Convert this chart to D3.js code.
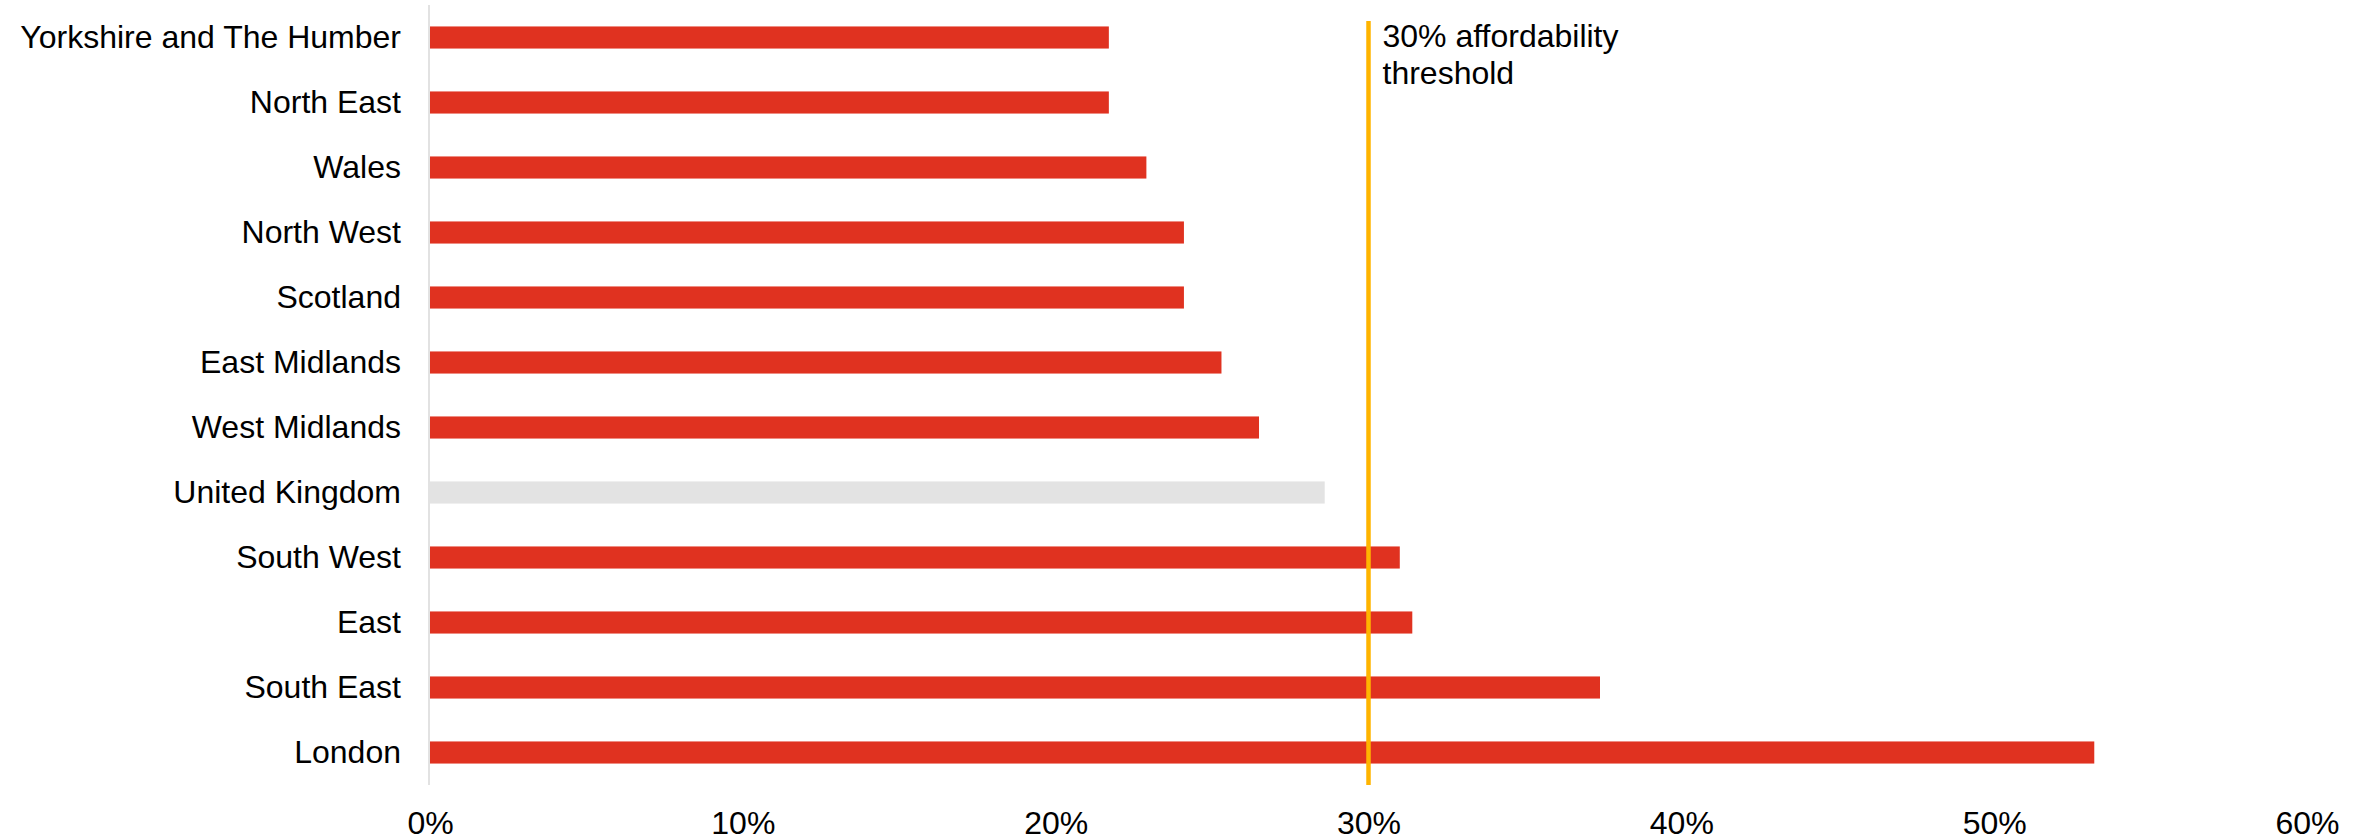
<!DOCTYPE html>
<html>
<head>
<meta charset="utf-8">
<script src="https://cdn.jsdelivr.net/npm/d3@7"></script>
<style>
  html, body { margin: 0; padding: 0; background: #fff; }
  svg { display: block; font-family: "Liberation Sans", Arial, sans-serif; }
</style>
</head>
<body>
<svg id="chart" width="2369" height="840"></svg>
<script>
// Share of income spent on rent, by region
const regions = [
  "Yorkshire and The Humber", "North East", "Wales", "North West", "Scotland",
  "East Midlands", "West Midlands", "United Kingdom", "South West", "East",
  "South East", "London"
];
const rentShare = [0.217, 0.217, 0.229, 0.241, 0.241, 0.253, 0.265, 0.286, 0.310, 0.314, 0.374, 0.532];
const highlight = ["United Kingdom"];
const xTicks = [0, 0.1, 0.2, 0.3, 0.4, 0.5, 0.6];
const threshold = 0.3;
const thresholdLabel = ["30% affordability", "threshold"];

const data = regions.map((r, i) => ({ region: r, value: rentShare[i] }));

const svg = d3.select("#chart");
const fontSize = 32;

const x = d3.scaleLinear().domain([0, 0.6]).range([430, 2307]);
const y = d3.scaleBand().domain(regions).range([5, 785]).paddingInner(0.66).paddingOuter(0.33);

// Bars
svg.append("g")
  .selectAll("rect")
  .data(data)
  .join("rect")
  .attr("x", x(0))
  .attr("y", d => y(d.region))
  .attr("width", d => x(d.value) - x(0))
  .attr("height", y.bandwidth())
  .attr("fill", d => highlight.includes(d.region) ? "#e3e3e3" : "#e03220");

// Vertical baseline
svg.append("line")
  .attr("x1", x(0) - 1).attr("x2", x(0) - 1)
  .attr("y1", 5).attr("y2", 785)
  .attr("stroke", "#d9d9d9")
  .attr("stroke-width", 1.5);

// Category axis
const yAxis = svg.append("g")
  .attr("transform", `translate(${x(0)},0)`)
  .call(d3.axisLeft(y).tickSize(0).tickPadding(29));
yAxis.select(".domain").remove();
yAxis.selectAll("text")
  .attr("font-size", fontSize)
  .attr("font-family", "'Liberation Sans', Arial, sans-serif")
  .attr("fill", "#000");

// Value axis
const xAxis = svg.append("g")
  .attr("transform", "translate(0,785)")
  .call(d3.axisBottom(x).tickValues(xTicks).tickFormat(d3.format(".0%")).tickSize(0).tickPadding(26));
xAxis.select(".domain").remove();
xAxis.selectAll("text")
  .attr("font-size", fontSize)
  .attr("font-family", "'Liberation Sans', Arial, sans-serif")
  .attr("fill", "#000");

// Affordability threshold
svg.append("line")
  .attr("x1", x(threshold)).attr("x2", x(threshold))
  .attr("y1", 21).attr("y2", 785)
  .attr("stroke", "#ffb400")
  .attr("stroke-width", 4.5);

svg.append("text")
  .attr("x", x(threshold) + 14)
  .attr("y", 47)
  .attr("font-size", fontSize)
  .attr("fill", "#000")
  .selectAll("tspan")
  .data(thresholdLabel)
  .join("tspan")
  .attr("x", x(threshold) + 14)
  .attr("dy", (d, i) => i === 0 ? 0 : 36.5)
  .text(d => d);
</script>
</body>
</html>
